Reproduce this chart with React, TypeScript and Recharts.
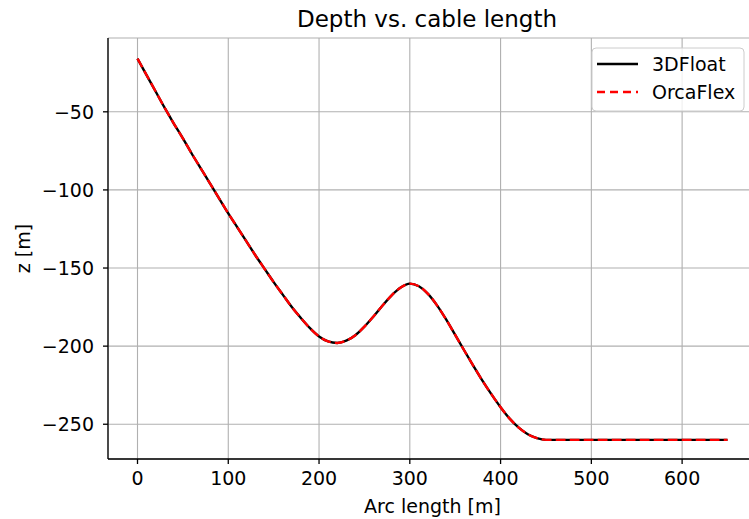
import { LineChart, Line, XAxis, YAxis, CartesianGrid } from "recharts";

// arc length along the cable [m]
const arcLength = [
  0, 10, 20, 30, 40, 50, 60, 70, 80, 90, 100, 110, 120, 130, 140, 150, 160,
  170, 180, 190, 200, 210, 220, 230, 240, 250, 260, 270, 280, 290, 300, 310,
  320, 330, 340, 350, 360, 370, 380, 390, 400, 410, 420, 430, 440, 450, 500,
  550, 600, 650
];

// depth z [m]
const depth3DFloat = [
  -16, -26.5, -37, -47.5, -57.5, -67, -77, -86.5, -96, -105.5, -115, -124,
  -133, -142, -150.5, -159, -167, -175, -182, -188.5, -193.8, -197, -198,
  -196.5, -193, -187.5, -181, -174, -167.5, -162.5, -160, -161.7, -166.5,
  -173.9, -182.9, -192.8, -202.8, -212.6, -222.1, -230.9, -239.1, -246.4,
  -252.2, -256.4, -258.9, -260, -260, -260, -260, -260
];

const depthOrcaFlex = [
  -16, -26.5, -37, -47.5, -57.5, -67, -77, -86.5, -96, -105.5, -115, -124,
  -133, -142, -150.5, -159, -167, -175, -182, -188.5, -193.8, -197, -198,
  -196.5, -193, -187.5, -181, -174, -167.5, -162.5, -160, -161.7, -166.5,
  -173.9, -182.9, -192.8, -202.8, -212.6, -222.1, -230.9, -239.1, -246.4,
  -252.2, -256.4, -258.9, -260, -260, -260, -260, -260
];

const xTicks = [0, 100, 200, 300, 400, 500, 600];
const yTicks = [-250, -200, -150, -100, -50];

const data = arcLength.map((s, i) => ({
  s,
  float3d: depth3DFloat[i],
  orca: depthOrcaFlex[i]
}));

const fmt = (v: number) => (v < 0 ? `\u2212${Math.abs(v)}` : `${v}`);

const tickStyle = { fontSize: 19, fill: "#000" };

export default function App() {
  return (
    <div
      style={{
        position: "absolute",
        left: 0,
        top: 0,
        width: 749,
        height: 519,
        overflow: "hidden",
        background: "#fff",
        fontFamily: "DejaVu Sans"
      }}
    >
      <LineChart
        width={760}
        height={519}
        data={data}
        margin={{ top: 38, right: 3, left: 0, bottom: 0 }}
      >
        <CartesianGrid stroke="#b0b0b0" strokeWidth={1.1} />
        <XAxis
          dataKey="s"
          type="number"
          domain={[-32.5, 682.5]}
          ticks={xTicks}
          tickFormatter={fmt}
          tick={tickStyle}
          height={60}
          tickSize={5}
          tickMargin={8}
          axisLine={{ stroke: "#000", strokeWidth: 1.3 }}
          tickLine={{ stroke: "#000", strokeWidth: 1.3 }}
          label={{
            value: "Arc length [m]",
            position: "insideBottom",
            offset: 6,
            style: { fontSize: 19, fill: "#000" }
          }}
        />
        <XAxis
          xAxisId="top"
          orientation="top"
          type="number"
          domain={[-32.5, 682.5]}
          height={0}
          tick={false}
          tickLine={false}
          axisLine={{ stroke: "#000", strokeWidth: 1.3 }}
        />
        <YAxis
          type="number"
          domain={[-272.25, -2.75]}
          ticks={yTicks}
          tickFormatter={fmt}
          tick={tickStyle}
          width={108}
          tickSize={5}
          tickMargin={9}
          axisLine={{ stroke: "#000", strokeWidth: 1.3 }}
          tickLine={{ stroke: "#000", strokeWidth: 1.3 }}
          label={{
            value: "z [m]",
            angle: -90,
            position: "insideLeft",
            offset: 23,
            style: { fontSize: 19, fill: "#000", textAnchor: "middle" }
          }}
        />
        <Line
          type="monotone"
          dataKey="float3d"
          stroke="#000"
          strokeWidth={2.4}
          dot={false}
          isAnimationActive={false}
        />
        <Line
          type="monotone"
          dataKey="orca"
          stroke="#ff0000"
          strokeWidth={2.4}
          strokeDasharray="9.8 4.2"
          dot={false}
          isAnimationActive={false}
        />
      </LineChart>

      {/* title and legend */}
      <svg
        width={749}
        height={519}
        style={{ position: "absolute", left: 0, top: 0, pointerEvents: "none" }}
      >
        <text x={427} y={27} textAnchor="middle" fontSize={23} fill="#000">
          Depth vs. cable length
        </text>
        <rect
          x={592}
          y={48}
          width={152}
          height={63}
          rx={4}
          fill="rgba(255,255,255,0.8)"
          stroke="#cccccc"
          strokeWidth={1}
        />
        <line x1={597} x2={638} y1={64} y2={64} stroke="#000" strokeWidth={2.4} />
        <line
          x1={597}
          x2={638}
          y1={92}
          y2={92}
          stroke="#ff0000"
          strokeWidth={2.4}
          strokeDasharray="8 5"
        />
        <text x={652} y={71} fontSize={19} fill="#000">
          3DFloat
        </text>
        <text x={652} y={99} fontSize={19} fill="#000">
          OrcaFlex
        </text>
      </svg>
    </div>
  );
}
